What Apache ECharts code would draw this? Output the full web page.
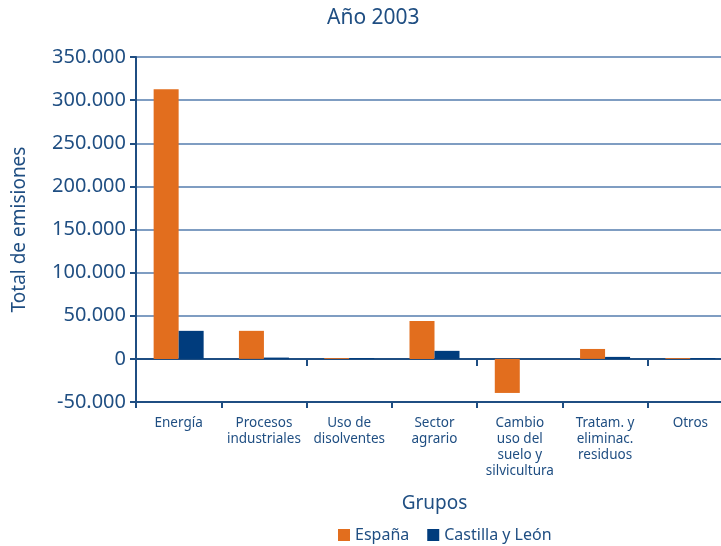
<!DOCTYPE html>
<html>
<head>
<meta charset="utf-8">
<script src="https://cdn.jsdelivr.net/npm/echarts@6/dist/echarts.min.js"></script>
<style>
  html, body { margin: 0; padding: 0; background: #fff; }
  #chart { width: 721px; height: 546px; }
</style>
</head>
<body>
<div id="chart"></div>
<script>
// categorías del eje x
var grupos = [
  "Energía",
  "Procesos\nindustriales",
  "Uso de\ndisolventes",
  "Sector\nagrario",
  "Cambio\nuso del\nsuelo y\nsilvicultura",
  "Tratam. y\neliminac.\nresiduos",
  "Otros"
];
var espana = [312500, 32500, 1000, 44000, -39500, 11500, 1000];
var castillaLeon = [32500, 1500, 1000, 9300, 0, 2300, 1000];
var yTicks = { min: -50000, max: 350000, interval: 50000 };

var azul = "#1f4e82";
var fmt = function (v) {
  var s = String(Math.abs(v)).replace(/\B(?=(\d{3})+(?!\d))/g, ".");
  return (v < 0 ? "-" : "") + s;
};

var chart = echarts.init(document.getElementById("chart"));
chart.setOption({
  textStyle: { fontFamily: "Noto Sans" },
  title: {
    text: "Año 2003",
    left: 322,
    top: 3,
    textStyle: { color: azul, fontSize: 21, fontWeight: "normal" }
  },
  legend: {
    data: ["España", "Castilla y León"],
    left: 333,
    top: 522,
    icon: "rect",
    itemWidth: 12,
    itemHeight: 12,
    itemGap: 18,
    textStyle: { color: azul, fontSize: 16 }
  },
  // el área de trazado sigue más allá del borde derecho de la imagen
  grid: { left: 136, width: 597, top: 57, bottom: 144, outerBoundsMode: "none", containLabel: false },
  xAxis: [
    {
      type: "category",
      data: grupos,
      position: "bottom",
      name: "Grupos",
      nameLocation: "middle",
      nameGap: 92,
      nameTextStyle: { color: azul, fontSize: 19 },
      axisLine: { onZero: false, lineStyle: { color: azul, width: 2 } },
      axisTick: { show: true, length: 6, lineStyle: { color: azul, width: 2 } },
      axisLabel: { interval: 0, color: azul, fontSize: 13.5, lineHeight: 16, margin: 13 },
      splitLine: { show: false }
    },
    {
      type: "category",
      data: grupos,
      position: "top",
      axisLine: { onZero: true, lineStyle: { color: azul, width: 2 } },
      axisTick: { show: true, inside: true, length: 7, lineStyle: { color: azul, width: 2 } },
      axisLabel: { show: false },
      splitLine: { show: false }
    }
  ],
  yAxis: {
    type: "value",
    min: yTicks.min,
    max: yTicks.max,
    interval: yTicks.interval,
    name: "Total de emisiones",
    nameLocation: "middle",
    nameGap: 107,
    nameTextStyle: { color: azul, fontSize: 19 },
    axisLine: { show: true, lineStyle: { color: azul, width: 2 } },
    axisTick: { show: true, length: 6, lineStyle: { color: azul, width: 2 } },
    axisLabel: { color: azul, fontSize: 20, margin: 10, formatter: fmt },
    splitLine: { lineStyle: { color: "#7f9dc2", width: 2 } }
  },
  series: [
    {
      name: "España",
      type: "bar",
      data: espana,
      barWidth: 25,
      barGap: "0%",
      itemStyle: { color: "#e26e1e" }
    },
    {
      name: "Castilla y León",
      type: "bar",
      data: castillaLeon,
      barWidth: 25,
      itemStyle: { color: "#003c7d" }
    }
  ]
});
</script>
</body>
</html>
